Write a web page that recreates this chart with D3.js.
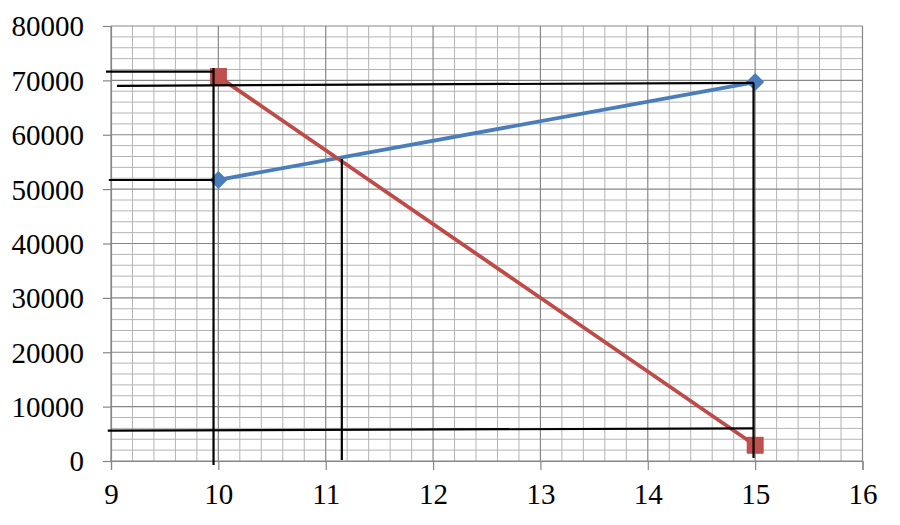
<!DOCTYPE html>
<html><head><meta charset="utf-8">
<script src="https://cdn.jsdelivr.net/npm/d3@7"></script>
<style>body{margin:0;background:#fff}svg{display:block}</style>
</head><body>
<svg id="c" width="900" height="525"></svg>
<script>
const xTicks = [9,10,11,12,13,14,15,16];
const yTicks = [0,10000,20000,30000,40000,50000,60000,70000,80000];
const blueX = [10, 15];
const blueY = [51700, 69700];
const redX = [10, 15];
const redY = [70700, 2900];
// hand-drawn black guide lines, in data units: [x1, y1, x2, y2]
const guides = [
  [8.953, 71600, 9.955, 71600],
  [9.056, 69000, 14.99, 69550],
  [9.955, 72280, 9.955, -740],
  [8.98, 51680, 9.955, 51680],
  [11.15, 55540, 11.15, 180],
  [8.97, 5570, 14.99, 6010],
  [14.985, 69520, 14.985, 550]
];

const svg = d3.select('#c');
const x = d3.scaleLinear().domain([9,16]).range([111, 862.5]);
const y = d3.scaleLinear().domain([0,80000]).range([461, 26]);
const font = '"Liberation Serif","Times New Roman",serif';

// minor grid
const minorX = d3.range(9, 16.001, 0.2).filter(v => Math.abs(v - Math.round(v)) > 1e-6);
const minorY = d3.range(0, 80001, 2000).filter(v => v % 10000 !== 0);
const g = svg.append('g');
g.selectAll('.mx').data(minorX).join('line')
  .attr('x1', d => x(d)).attr('x2', d => x(d)).attr('y1', y(0)).attr('y2', y(80000))
  .attr('stroke', '#b4b4b4').attr('stroke-width', 1);
g.selectAll('.my').data(minorY).join('line')
  .attr('y1', d => y(d)).attr('y2', d => y(d)).attr('x1', x(9)).attr('x2', x(16))
  .attr('stroke', '#b4b4b4').attr('stroke-width', 1);
// major grid
g.selectAll('.Mx').data(xTicks).join('line')
  .attr('x1', d => x(d)).attr('x2', d => x(d)).attr('y1', y(0)).attr('y2', y(80000))
  .attr('stroke', '#878787').attr('stroke-width', 1.2);
g.selectAll('.My').data(yTicks).join('line')
  .attr('y1', d => y(d)).attr('y2', d => y(d)).attr('x1', x(9)).attr('x2', x(16))
  .attr('stroke', '#878787').attr('stroke-width', 1.2);

// axes
const yAxis = d3.axisLeft(y).tickValues(yTicks).tickSize(8).tickPadding(20).tickFormat(d3.format('d'));
const xAxis = d3.axisBottom(x).tickValues(xTicks).tickSize(9).tickPadding(13).tickFormat(d3.format('d'));
const ya = svg.append('g').attr('transform', `translate(${x(9)},0)`).call(yAxis);
const xa = svg.append('g').attr('transform', `translate(0,${y(0)})`).call(xAxis);
[ya, xa].forEach(a => {
  a.select('.domain').attr('stroke', '#878787').attr('stroke-width', 1.2);
  a.selectAll('.tick line').attr('stroke', '#878787').attr('stroke-width', 1.2);
  a.selectAll('text').attr('fill', '#000').style('font-family', font).style('font-size', '29px');
});
ya.selectAll('text').attr('dy', '0.34em').attr('x', -27);
xa.selectAll('text').attr('dy', '0.72em');

// series
const line = d3.line().x(d => x(d[0])).y(d => y(d[1]));
const blue = blueX.map((v, i) => [v, blueY[i]]);
const red = redX.map((v, i) => [v, redY[i]]);
svg.append('path').datum(blue).attr('d', line).attr('fill', 'none')
  .attr('stroke', '#4a7ebb').attr('stroke-width', 3.8);
svg.append('path').datum(red).attr('d', line).attr('fill', 'none')
  .attr('stroke', '#be4b48').attr('stroke-width', 3.8);
svg.selectAll('.dia').data(blue).join('path')
  .attr('d', d => { const s = 9; return `M0,${-s}L${s},0L0,${s}L${-s},0Z`; })
  .attr('transform', d => `translate(${x(d[0])},${y(d[1])})`)
  .attr('fill', '#4a7ebb');
svg.selectAll('.sq').data(red).join('rect')
  .attr('x', d => x(d[0]) - 8).attr('y', d => y(d[1]) - 8)
  .attr('width', 16).attr('height', 16)
  .attr('fill', '#c0504d').attr('stroke', '#b04440').attr('stroke-width', 0.8);

// guides
svg.selectAll('.gd').data(guides).join('line')
  .attr('x1', d => x(d[0])).attr('y1', d => y(d[1]))
  .attr('x2', d => x(d[2])).attr('y2', d => y(d[3]))
  .attr('stroke', '#000').attr('stroke-width', 2.2);
</script>
</body></html>
